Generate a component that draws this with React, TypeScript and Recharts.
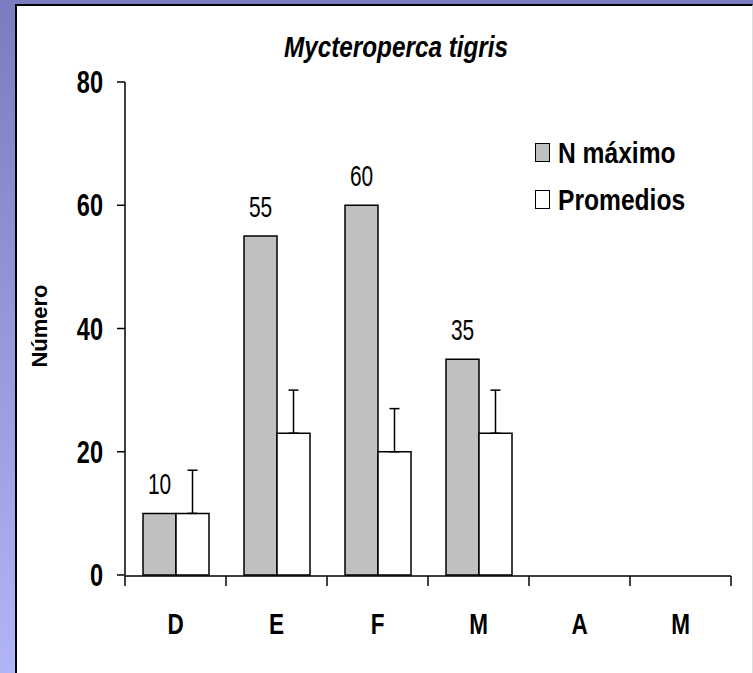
import { BarChart, Bar, XAxis, YAxis, ErrorBar, LabelList, Legend } from 'recharts';

const meses = ['D', 'E', 'F', 'M', 'A', 'M'];
const nMaximo = [10, 55, 60, 35, null, null];
const promedios = [10, 23, 20, 23, null, null];
const errores = [7, 7, 7, 7, null, null];
const yTicks = [0, 20, 40, 60, 80];

const FONT = "'Liberation Sans', Arial, sans-serif";

const data = meses.map((mes, i) => ({
  mes,
  nMax: nMaximo[i],
  prom: promedios[i],
  err: errores[i] == null ? null : [0, errores[i]],
}));

// the number axis spans the row indices (0 .. n-1), so the category
// borders sit at k * (n-1)/n on it
const n = meses.length;
const bordes = Array.from({ length: n + 1 }, (_, k) => (k * (n - 1)) / n);

// the original text is condensed, so squeeze it horizontally
function YTick({ x, y, payload }: any) {
  return (
    <text transform={`translate(${x},${y}) scale(0.76,1)`} textAnchor="end" dy="0.36em"
      fontFamily={FONT} fontWeight="bold" fontSize={31} fill="#000">
      {payload.value}
    </text>
  );
}

function XTick({ x, y, payload }: any) {
  return (
    <text transform={`translate(${x},${y}) scale(0.75,1)`} textAnchor="middle" dy="0.71em"
      fontFamily={FONT} fontWeight="bold" fontSize={30} fill="#000">
      {payload.value}
    </text>
  );
}

function NoTick() {
  return <g />;
}

function TopLabel({ x, y, width, value }: any) {
  if (value == null) return null;
  return (
    <text transform={`translate(${x + width / 2},${y - 19}) scale(0.72,1)`} textAnchor="middle"
      fontFamily={FONT} fontSize={29} fill="#000">
      {value}
    </text>
  );
}

function LegendBox({ payload }: any) {
  return (
    <div>
      {(payload || []).map((p: any) => (
        <div key={p.value} style={{ display: 'flex', alignItems: 'center', height: 47 }}>
          <div style={{ width: 13, height: 17, background: p.color, border: '1.5px solid #000', marginRight: 8, flex: 'none' }} />
          <span style={{ display: 'inline-block', transform: 'scaleX(0.82)', transformOrigin: 'left center', whiteSpace: 'nowrap',
            fontFamily: FONT, fontWeight: 'bold', fontSize: 30, color: '#000' }}>{p.value}</span>
        </div>
      ))}
    </div>
  );
}

export default function App() {
  return (
    <div style={{ position: 'absolute', left: 0, top: 0, width: 753, height: 673, background: 'linear-gradient(to bottom, #7a7cc2, #b0b5f5)', overflow: 'hidden' }}>
      <div style={{ position: 'absolute', left: 15, top: 4, width: 738, height: 669, boxSizing: 'border-box', background: '#fff', borderTop: '2px solid #000', borderLeft: '2px solid #000', borderRight: '1px solid #ddd' }} />
      <div style={{ position: 'absolute', left: 0, top: 0 }}>
        <BarChart width={753} height={673} data={data} margin={{ top: 82, right: 22, left: 0, bottom: 96 }} barGap={0}>
          <text transform="translate(396,57) scale(0.81,1)" textAnchor="middle" fontFamily={FONT} fontWeight="bold" fontStyle="italic" fontSize={30} fill="#000">
            Mycteroperca tigris
          </text>
          <text transform="translate(47,326) rotate(-90)" textAnchor="middle" fontFamily={FONT} fontWeight="bold" fontSize={22} fill="#000">
            Número
          </text>
          <XAxis xAxisId="cat" dataKey="mes" height={1} axisLine={false} tickLine={false} tickSize={0} tickMargin={38}
            tick={<XTick />} interval={0} />
          <XAxis xAxisId="lim" type="number" domain={[0, n - 1]} ticks={bordes} height={1} tick={<NoTick />} tickSize={10} interval={0}
            axisLine={{ stroke: '#000', strokeWidth: 1.5 }} tickLine={{ stroke: '#000', strokeWidth: 1.5 }} />
          <YAxis width={125} domain={[0, 80]} ticks={yTicks} tickSize={8} tickMargin={14}
            axisLine={{ stroke: '#000', strokeWidth: 1.5 }} tickLine={{ stroke: '#000', strokeWidth: 1.5 }}
            tick={<YTick />} />
          <Legend layout="vertical" align="center" verticalAlign="middle" content={<LegendBox />}
            wrapperStyle={{ position: 'absolute', left: 535, top: 129, width: 200, height: 100 }} />
          <Bar xAxisId="cat" dataKey="nMax" name="N máximo" fill="#c0c0c0" stroke="#000" strokeWidth={1.5} barSize={33} isAnimationActive={false}>
            <LabelList dataKey="nMax" content={<TopLabel />} />
          </Bar>
          <Bar xAxisId="cat" dataKey="prom" name="Promedios" fill="#fff" stroke="#000" strokeWidth={1.5} barSize={33} isAnimationActive={false}>
            <ErrorBar dataKey="err" direction="y" width={5} stroke="#000" strokeWidth={1.5} />
          </Bar>
        </BarChart>
      </div>
    </div>
  );
}
